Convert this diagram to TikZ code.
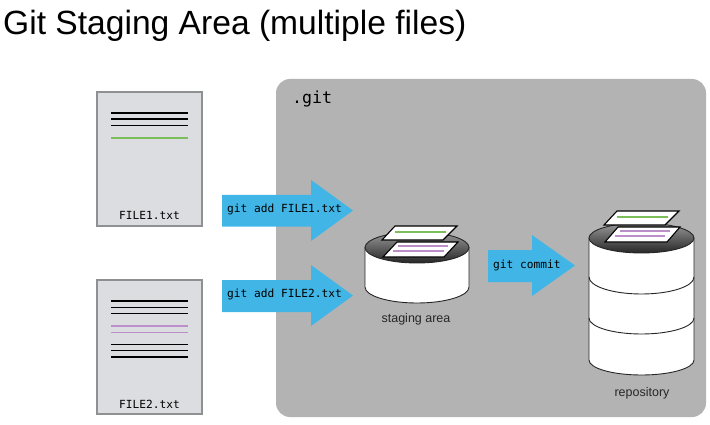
\documentclass[tikz,border=0pt]{standalone}
\usepackage{fontspec}
\setmainfont{Liberation Sans}
\setmonofont{DejaVu Sans Mono}
\definecolor{gitgray}{HTML}{B3B3B3}
\definecolor{pagegray}{HTML}{DCDDE0}
\definecolor{pageedge}{HTML}{8E9092}
\definecolor{arrowblue}{HTML}{41B6E6}
\definecolor{linegreen}{HTML}{7CBF5A}
\definecolor{linepurple}{HTML}{BC8FCB}

\begin{document}
\begin{tikzpicture}[x=1pt, y=-1pt]
	\tikzstyle{filepage} = [fill=pagegray, draw=pageedge, line width=1.8pt]
	\tikzstyle{textline} = [line width=1.7pt]
	\tikzstyle{blockarrow} = [fill=arrowblue]
	\tikzstyle{cmdlabel} = [font=\ttfamily\fontsize{11.2}{13}\selectfont, inner sep=0pt]
	\tikzstyle{filelabel} = [font=\ttfamily\fontsize{11.2}{13}\selectfont, inner sep=0pt]
	\tikzstyle{dblabel} = [font=\fontsize{12.5}{15}\selectfont, inner sep=0pt, text=black!85]
	\tikzstyle{drum} = [fill=white, draw=black!85, line width=0.9pt]
	\tikzstyle{drumtop} = [draw=black!85, line width=0.9pt, top color=black!40, bottom color=black!85]
	\tikzstyle{sheet} = [fill=white, draw=black, line width=1.1pt]

	\useasboundingbox (0,0) rectangle (710,425);

	% title
	\node[anchor=west, inner sep=0pt, font=\fontsize{33.6}{38}\selectfont] (title) at (3,26) {Git Staging Area (multiple files)};

	% .git folder
	\fill[gitgray, rounded corners=14pt] (276,79) rectangle (706,417);
	\node[anchor=west, inner sep=0pt, font=\ttfamily\fontsize{16.6}{19}\selectfont] (gitdir) at (292,99) {.git};

	% file 1
	\draw[filepage] (97,92) rectangle (202,226);
	\draw[textline] (111,113) -- (188,113);
	\draw[textline] (111,119) -- (188,119);
	\draw[textline] (111,125.5) -- (188,125.5);
	\draw[textline, linegreen] (111,138) -- (188,138);
	\node[filelabel] (file_1) at (149.5,215) {FILE1.txt};

	% file 2
	\draw[filepage] (97,280) rectangle (202,414);
	\draw[textline] (111,301) -- (188,301);
	\draw[textline] (111,307.5) -- (188,307.5);
	\draw[textline] (111,313.5) -- (188,313.5);
	\draw[textline, linepurple] (111,326) -- (188,326);
	\draw[textline, linepurple] (111,332.5) -- (188,332.5);
	\draw[textline] (111,344.5) -- (188,344.5);
	\draw[textline] (111,350.5) -- (188,350.5);
	\draw[textline] (111,357) -- (188,357);
	\node[filelabel] (file_2) at (149.5,404) {FILE2.txt};

	% arrows
	\fill[blockarrow] (222,195) -- (311,195) -- (311,180) -- (353,210.5) -- (311,241) -- (311,226.5) -- (222,226.5) -- cycle;
	\node[cmdlabel, anchor=west] (add_1) at (227,209.5) {git add FILE1.txt};
	\fill[blockarrow] (222,280) -- (311,280) -- (311,265) -- (353,295.5) -- (311,326) -- (311,312) -- (222,312) -- cycle;
	\node[cmdlabel, anchor=west] (add_2) at (227,294.5) {git add FILE2.txt};
	\fill[blockarrow] (488,250) -- (532,250) -- (532,235) -- (575,265.5) -- (532,296) -- (532,282) -- (488,282) -- cycle;
	\node[cmdlabel, anchor=west] (commit) at (493,265) {git commit};

	% staging area
	\draw[drum] (365,247.5) -- (365,287) arc (180:0:52 and 16) -- (469,247.5) -- cycle;
	\draw[drumtop] (417,247.5) ellipse [x radius=52, y radius=15.5];
	\draw[sheet] (382,240) -- (395,226) -- (457,226) -- (443,240) -- cycle;
	\draw[sheet] (383,257) -- (397,242) -- (458,242) -- (444,257) -- cycle;
	\draw[textline, linegreen] (395,232) -- (446,232);
	\draw[textline, linepurple] (398,246) -- (448,246);
	\draw[textline, linepurple] (393,251) -- (444,251);
	\node[dblabel] (staging) at (416,319) {staging area};

	% repository
	\draw[drum] (589,238) -- (589,360) arc (180:0:52.5 and 15) -- (694,238) -- cycle;
	\draw[drum, fill=none] (589,277) arc (180:0:52.5 and 17);
	\draw[drum, fill=none] (589,318) arc (180:0:52.5 and 16);
	\draw[drumtop] (641.5,238) ellipse [x radius=52.5, y radius=15];
	\draw[sheet] (604,225) -- (617,211) -- (679,211) -- (665,225) -- cycle;
	\draw[sheet] (605,242) -- (618,227) -- (680,227) -- (667,242) -- cycle;
	\draw[textline, linegreen] (617,217) -- (668,217);
	\draw[textline, linepurple] (620,231) -- (670,231);
	\draw[textline, linepurple] (615,236) -- (665,236);
	\node[dblabel] (repo) at (642,393) {repository};
\end{tikzpicture}
\end{document}
